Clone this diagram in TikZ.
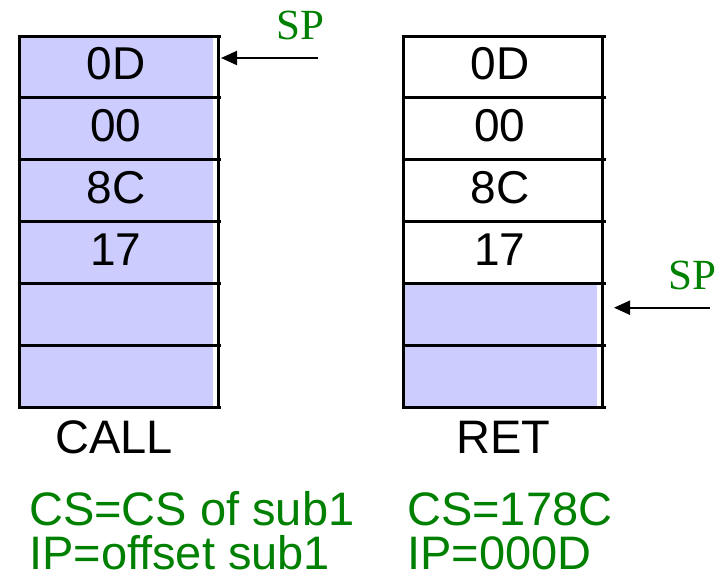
\documentclass[tikz,border=0pt]{standalone}
\usepackage{fontspec}
\setmainfont{Liberation Sans}
\newfontfamily\spfont{Liberation Serif}
\usetikzlibrary{arrows.meta}
\definecolor{cellfill}{HTML}{CCCCFF}
\definecolor{labelgreen}{HTML}{008000}
\begin{document}
\begin{tikzpicture}[x=1pt,y=-1pt,
  cell/.style={rectangle, inner sep=0pt, minimum width=194pt, minimum height=61.83pt,
    text height=32pt, text depth=6pt, font=\fontsize{46}{55}\selectfont},
  used/.style={cell, fill=cellfill},
  frame/.style={line width=3pt, black},
  pointer/.style={line width=2pt, -{Triangle[length=16pt,width=14pt]}},
  splabel/.style={anchor=base west, inner sep=0pt, text=labelgreen,
    font=\spfont\fontsize{43}{51}\selectfont},
  caption/.style={anchor=base, inner sep=0pt, font=\fontsize{47}{56}\selectfont},
  regs/.style={anchor=base west, inner sep=0pt, text=labelgreen,
    font=\fontsize{47}{56}\selectfont}]
\useasboundingbox (0,0) rectangle (724,574);

% stack after CALL: all six words in use
\node[used] (L1) at (116, 66.9) {0D};
\node[used] (L2) at (116,128.7) {00};
\node[used] (L3) at (116,190.6) {8C};
\node[used] (L4) at (116,252.4) {17};
\node[used] (L5) at (116,314.2) {};
\node[used] (L6) at (116,376.1) {};

% stack after RET: only the two lower words remain in use
\node[cell] (R1) at (500, 66.9) {0D};
\node[cell] (R2) at (500,128.7) {00};
\node[cell] (R3) at (500,190.6) {8C};
\node[cell] (R4) at (500,252.4) {17};
\node[used] (R5) at (500,314.2) {};
\node[used] (R6) at (500,376.1) {};

% cell borders
\foreach \y in {36,97.8,159.7,221.5,283.3,345.2,407} {
  \draw[frame] (17.5,\y) -- (221,\y);
  \draw[frame] (401.8,\y) -- (605.5,\y);
}
\foreach \x in {19,218.5,403.3,602.3}
  \draw[frame] (\x,36) -- (\x,407);

% stack pointers
\coordinate (spLtail) at (318,58);
\coordinate (spLtip) at (221,58);
\coordinate (spRtail) at (710,307.7);
\coordinate (spRtip) at (614,307.7);
\draw[pointer] (spLtail) -- (spLtip);
\draw[pointer] (spRtail) -- (spRtip);
\node[splabel] (spL) at (276,39) {SP};
\node[splabel] (spR) at (668,289) {SP};

% captions
\node[caption] (callcap) at (114,453) {CALL};
\node[caption] (retcap) at (503.5,453) {RET};

% register contents
\node[regs] (csL) at (29,525) {CS=CS of sub1};
\node[regs] (ipL) at (29,569) {IP=offset sub1};
\node[regs] (csR) at (407,525) {CS=178C};
\node[regs] (ipR) at (407,569) {IP=000D};
\end{tikzpicture}
\end{document}
